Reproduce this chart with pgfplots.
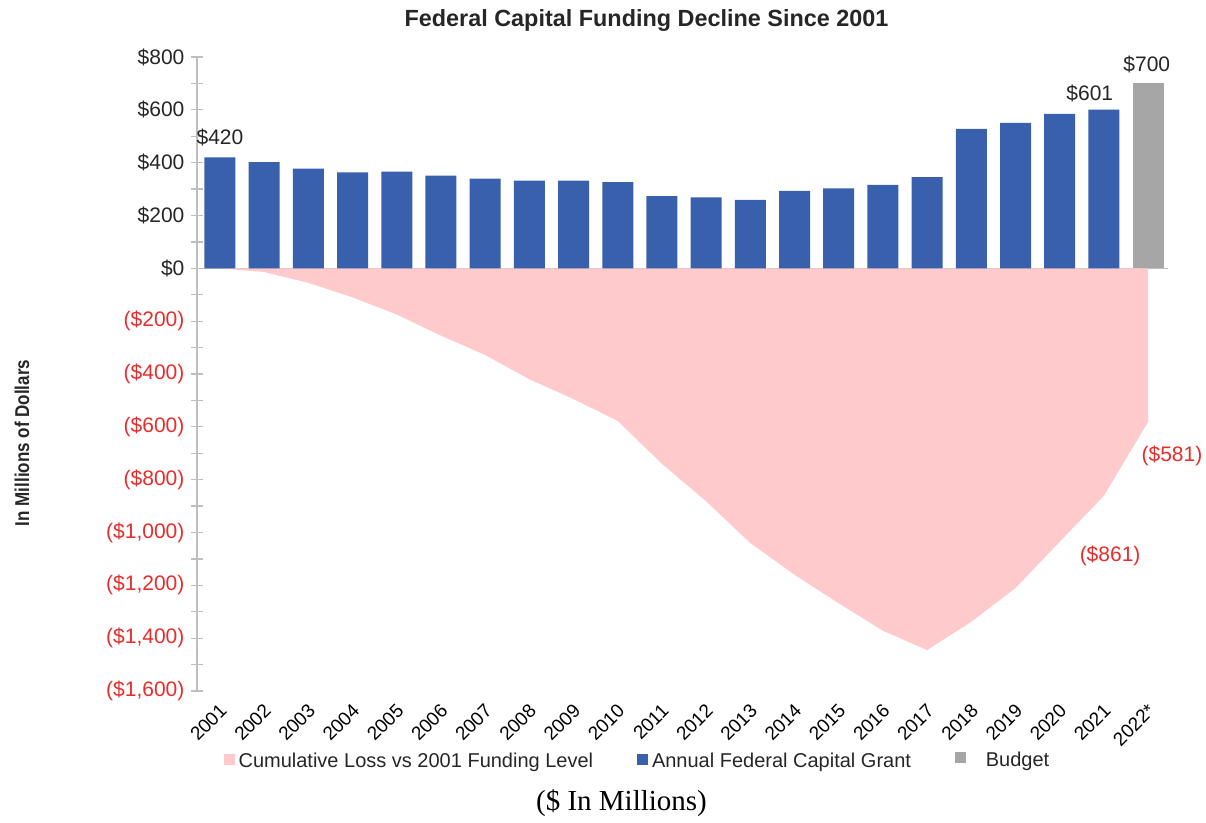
\documentclass[border=0pt]{standalone}
\usepackage{fontspec}
\setmainfont{Liberation Sans}
\newfontfamily\capserif{Liberation Serif}
\newfontfamily\narrowsans[FakeStretch=0.85]{Liberation Sans}
\usepackage{pgfplots}
\pgfplotsset{compat=1.18}
\definecolor{barblue}{RGB}{56,96,172}
\definecolor{budgetgray}{RGB}{166,166,166}
\definecolor{losspink}{RGB}{255,202,203}
\definecolor{lossred}{RGB}{232,44,44}
\definecolor{axisgray}{RGB}{190,190,190}
\begin{document}
\begin{tikzpicture}
\path[use as bounding box] (-98.5pt,-66pt) rectangle (504.5pt,345.5pt);
\begin{axis}[
  at={(0,0)}, anchor=south west,
  scale only axis, width=485.5pt, height=317pt,
  xmin=-0.52, xmax=21.45, ymin=-1600, ymax=800,
  clip=false,
  axis y line*=left, axis x line*=bottom,
  x axis line style={draw=none},
  y axis line style={draw=axisgray, line width=0.8pt},
  ytick={-1600,-1400,...,800},
  yticklabels={{\textcolor{lossred}{(\$1,600)}},{\textcolor{lossred}{(\$1,400)}},{\textcolor{lossred}{(\$1,200)}},{\textcolor{lossred}{(\$1,000)}},{\textcolor{lossred}{(\$800)}},{\textcolor{lossred}{(\$600)}},{\textcolor{lossred}{(\$400)}},{\textcolor{lossred}{(\$200)}},{\$0},{\$200},{\$400},{\$600},{\$800}},
  minor y tick num=1,
  tick align=center,
  major tick length=5.5pt, minor tick length=5.5pt,
  tick style={draw=axisgray, line width=0.6pt},
  xtick={0,...,21},
  xticklabels={2001,2002,2003,2004,2005,2006,2007,2008,2009,2010,2011,2012,2013,2014,2015,2016,2017,2018,2019,2020,2021,2022*},
  xtick style={draw=none},
  xticklabel style={rotate=45, anchor=north east, font=\fontsize{9.5}{10}\selectfont, inner sep=1pt, yshift=-0.5pt, xshift=-1.5pt},
  yticklabel style={font=\fontsize{10.5}{12}\selectfont, text=black!85},
  extra y ticks={0}, extra y tick labels={},
  extra y tick style={grid=major, major grid style={draw=axisgray, line width=0.8pt}, tick style={draw=none}},
  legend columns=3,
  legend cell align=left,
  legend style={at={(0.4547,-0.112)}, anchor=center, draw=none, fill=none,
    font=\fontsize{10}{12}\selectfont, text=black!85,
    /tikz/every even column/.append style={column sep=20pt}},
]
\addlegendimage{legend image code/.code={\fill[losspink] (0pt,-1pt) rectangle (5pt,4pt);}}
\addlegendentry{Cumulative Loss vs 2001 Funding Level}
\addlegendimage{legend image code/.code={\fill[barblue] (0pt,-1pt) rectangle (5pt,4pt);}}
\addlegendentry{Annual Federal Capital Grant}
\addlegendimage{legend image code/.code={\fill[budgetgray] (0pt,0pt) rectangle (5pt,5pt);}}
\addlegendentry{\hspace{8pt}\raisebox{1.5pt}{Budget}}

\addplot[fill=losspink, draw=none, forget plot] coordinates {
(0,0) (1,-14) (2,-55) (3,-110) (4,-175) (5,-255) (6,-328) (7,-420) (8,-495) (9,-578)
(10,-740) (11,-882) (12,-1040) (13,-1160) (14,-1268) (15,-1372) (16,-1445)
(17,-1338) (18,-1210) (19,-1035) (20,-861) (21,-581) (21,0)} -- cycle;

\addplot[ybar, bar width=15.5pt, fill=barblue, draw=none, forget plot] coordinates {
(0,420) (1,402) (2,377) (3,363) (4,366) (5,351) (6,340) (7,332) (8,332) (9,326)
(10,273) (11,269) (12,259) (13,293) (14,303) (15,316) (16,345) (17,528) (18,551)
(19,585) (20,601)};
\addplot[ybar, bar width=15.5pt, fill=budgetgray, draw=none, forget plot] coordinates {(21,700)};

\node[font=\fontsize{10.5}{12}\selectfont, text=black!85] at (axis cs:0,497) {\$420};
\node[font=\fontsize{10.5}{12}\selectfont, text=black!85] at (axis cs:19.68,663) {\$601};
\node[font=\fontsize{10.5}{12}\selectfont, text=black!85] at (axis cs:20.97,770) {\$700};
\node[font=\fontsize{10.5}{12}\selectfont, text=lossred] at (axis cs:20.14,-1088) {(\$861)};
\node[font=\fontsize{10.5}{12}\selectfont, text=lossred] at (axis cs:21.54,-709) {(\$581)};
\end{axis}
\node[font=\bfseries\fontsize{11.7}{13}\selectfont, text=black!85] at (224.75pt,335pt) {Federal Capital Funding Decline Since 2001};
\node[font=\narrowsans\bfseries\fontsize{10}{12}\selectfont, text=black!85, rotate=90] at (-87.5pt,124pt) {In Millions of Dollars};
\node[font=\capserif\fontsize{14.5}{16}\selectfont] at (212.25pt,-56pt) {(\$ In Millions)};
\end{tikzpicture}
\end{document}
